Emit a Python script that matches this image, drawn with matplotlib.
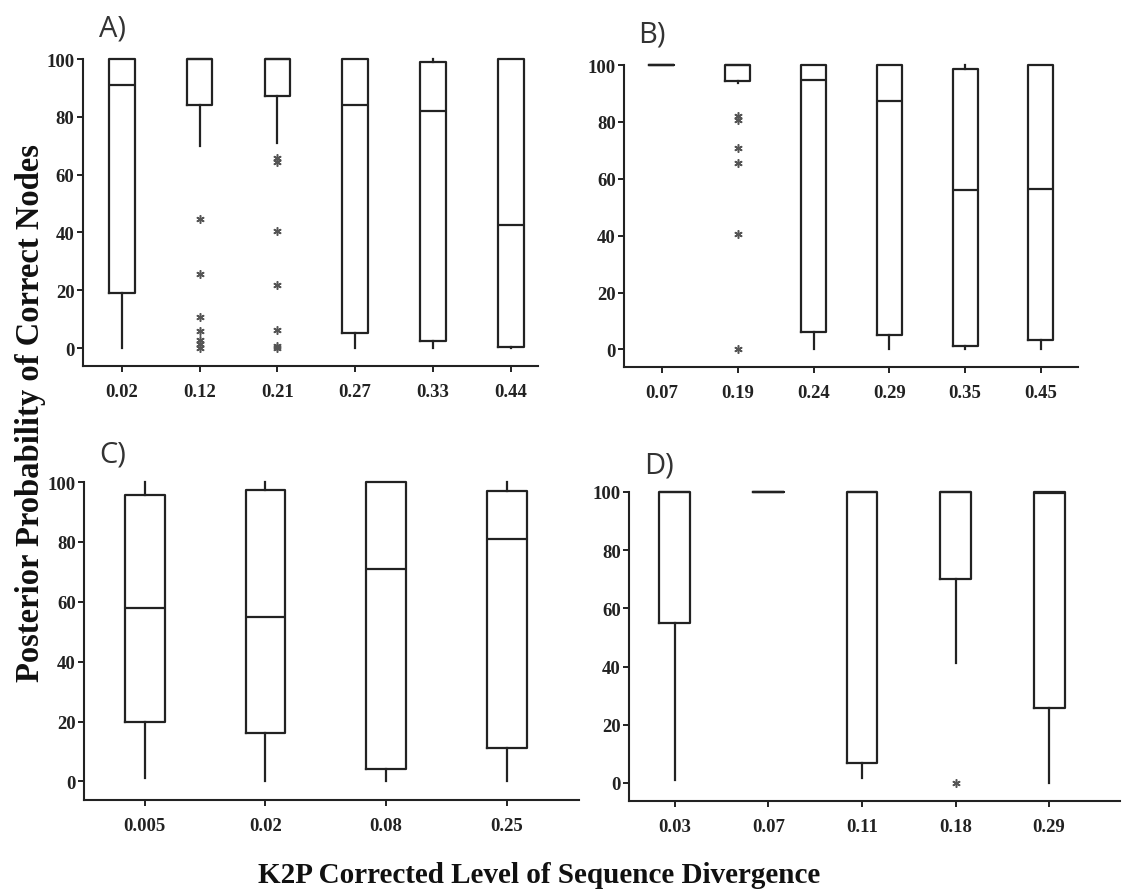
import matplotlib.pyplot as plt

# ## Box summaries (whisker low, Q1, median, Q3, whisker high, outliers)
A_lab = ['0.02', '0.12', '0.21', '0.27', '0.33', '0.44']
A_lo = [0, 70, 71, 0, 0, 0]
A_q1 = [19, 84, 87.3, 5.1, 2.5, 0.3]
A_med = [91, 100, 100, 84, 82, 42.6]
A_q3 = [100, 100, 100, 100, 99, 100]
A_hi = [100, 100, 100, 100, 100, 100]
A_out = [[], [44.7, 25.6, 10.6, 5.8, 2.9, 1.4, 0], [65.7, 64.5, 40.6, 21.8, 6.4, 0.8, 0], [], [], []]

B_lab = ['0.07', '0.19', '0.24', '0.29', '0.35', '0.45']
B_lo = [100, 93.7, 0, 0, 0, 0]
B_q1 = [100, 94.4, 6.2, 4.9, 1.1, 3.2]
B_med = [100, 100, 94.8, 87.3, 56, 56.3]
B_q3 = [100, 100, 100, 100, 98.7, 100]
B_hi = [100, 100, 100, 100, 100, 100]
B_out = [[], [82, 80.8, 70.7, 65.6, 40.7, 0], [], [], [], []]

C_lab = ['0.005', '0.02', '0.08', '0.25']
C_lo = [1.3, 0, 0, 0]
C_q1 = [20, 16.2, 4.3, 11.3]
C_med = [57.8, 54.8, 70.9, 80.9]
C_q3 = [95.8, 97.3, 100, 96.9]
C_hi = [100, 100, 100, 100]
C_out = [[], [], [], []]

D_lab = ['0.03', '0.07', '0.11', '0.18', '0.29']
D_lo = [1.1, 100, 1.8, 41.1, 0]
D_q1 = [54.9, 100, 6.7, 70.2, 25.9]
D_med = [100, 100, 100, 100, 99.6]
D_q3 = [100, 100, 100, 100, 100]
D_hi = [100, 100, 100, 100, 100]
D_out = [[], [], [], [0], []]

tick_font = {'family': 'Liberation Serif', 'weight': 'bold', 'size': 13.5}

fig = plt.figure(figsize=(11.24, 8.95), dpi=100)


def panel(rect, xlim, tag, tagpos, lab, lo, q1, med, q3, hi, out):
    ax = fig.add_axes(rect)
    stats = []
    for i in range(len(lab)):
        stats.append(dict(whislo=lo[i], q1=q1[i], med=med[i], q3=q3[i],
                          whishi=hi[i], fliers=out[i]))
    art = ax.bxp(stats, positions=range(1, len(lab) + 1), widths=0.33,
                 showcaps=False, patch_artist=False,
                 boxprops=dict(color='#222222', linewidth=1.6),
                 whiskerprops=dict(color='#222222', linewidth=1.6),
                 medianprops=dict(color='#222222', linewidth=1.6),
                 flierprops=dict(marker=(6, 2, 0), markersize=6, markeredgewidth=1.1,
                                 markeredgecolor='#555555', linestyle='none'))
    for k in art:
        for a in art[k]:
            a.set_clip_on(False)
    ax.set_xlim(*xlim)
    ax.set_ylim(-6.2, 100)
    ax.set_yticks([0, 20, 40, 60, 80, 100])
    ax.set_xticks(range(1, len(lab) + 1))
    ax.set_xticklabels(lab, fontdict=tick_font)
    ax.set_yticklabels(['0', '20', '40', '60', '80', '100'], fontdict=tick_font)
    ax.tick_params(axis='x', length=4, width=1.4, pad=8, colors='#222222')
    ax.tick_params(axis='y', length=4, width=1.4, pad=2, colors='#222222')
    for s in ['top', 'right']:
        ax.spines[s].set_visible(False)
    for s in ['left', 'bottom']:
        ax.spines[s].set_linewidth(1.5)
        ax.spines[s].set_color('#222222')
    fig.text(tagpos[0], tagpos[1], tag, fontsize=21, family='Open Sans',
             color='#333333', ha='left', va='center')
    return ax


panel([0.0738, 0.5899, 0.4048, 0.343], (0.5, 6.35), 'A)', (0.088, 0.968),
      A_lab, A_lo, A_q1, A_med, A_q3, A_hi, A_out)
panel([0.5552, 0.5888, 0.4039, 0.3374], (0.5, 6.49), 'B)', (0.568, 0.961),
      B_lab, B_lo, B_q1, B_med, B_q3, B_hi, B_out)
panel([0.0747, 0.105, 0.4404, 0.3553], (0.495, 4.6), 'C)', (0.088, 0.492),
      C_lab, C_lo, C_q1, C_med, C_q3, C_hi, C_out)
panel([0.5596, 0.1039, 0.437, 0.3453], (0.51, 5.76), 'D)', (0.573, 0.479),
      D_lab, D_lo, D_q1, D_med, D_q3, D_hi, D_out)

fig.text(0.027, 0.538, 'Posterior Probability of Correct Nodes', rotation=90,
         family='Liberation Serif', weight='bold', size=23.5, color='#111111',
         ha='center', va='center')
fig.text(0.48, 0.022, 'K2P Corrected Level of Sequence Divergence',
         family='Liberation Serif', weight='bold', size=21, color='#111111',
         ha='center', va='center')

plt.savefig('out.png', dpi=100)
plt.close()
